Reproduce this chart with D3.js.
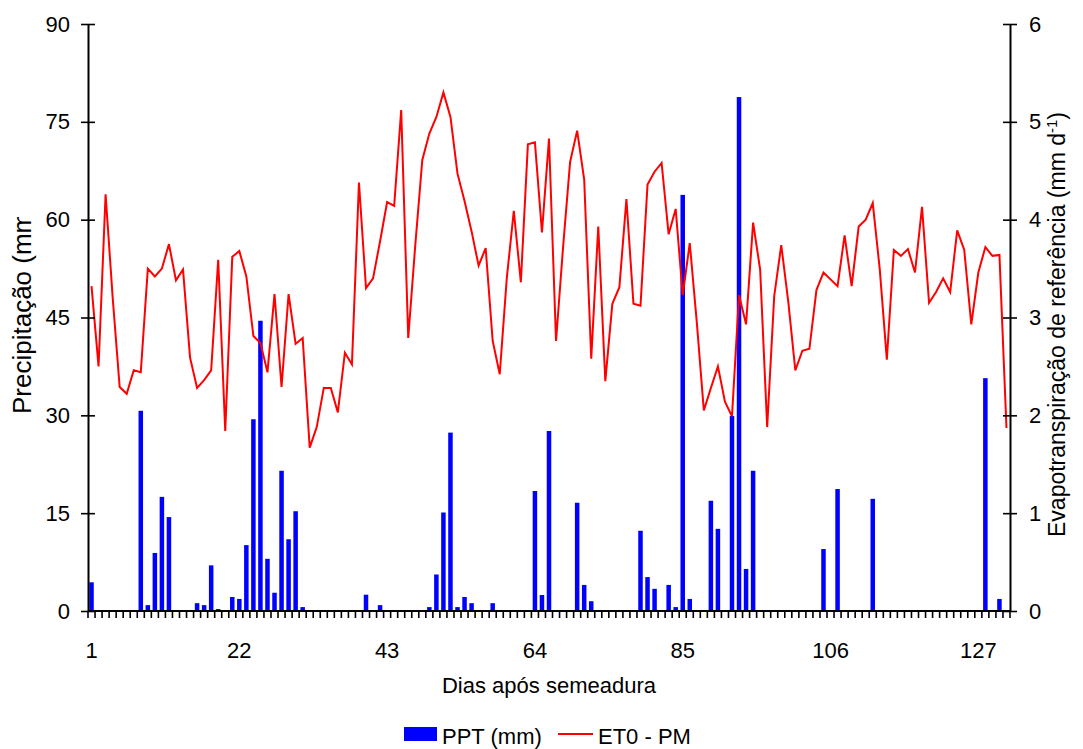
<!DOCTYPE html>
<html>
<head>
<meta charset="utf-8">
<script src="https://cdn.jsdelivr.net/npm/d3@7/dist/d3.min.js"></script>
<style>
  html, body { margin: 0; padding: 0; background: #fff; }
  svg { display: block; font-family: "Liberation Sans", Arial, sans-serif; }
</style>
</head>
<body>
<svg id="chart" width="1083" height="749"></svg>
<script>
// ---- data ----
const days = d3.range(1, 132); // 1..131
const pptDays = [1, 8, 9, 10, 11, 12, 16, 17, 18, 19, 21, 22, 23, 24, 25, 26, 27, 28, 29, 30, 31,
  40, 42, 49, 50, 51, 52, 53, 54, 55, 58, 64, 65, 66, 70, 71, 72, 79, 80, 81, 83, 84, 85, 86,
  89, 90, 92, 93, 94, 95, 105, 107, 112, 128, 130];
const pptValues = [4.4, 30.7, 0.9, 8.9, 17.5, 14.4, 1.2, 0.9, 7.0, 0.3, 2.15, 1.85, 10.1, 29.4, 44.5, 8.0, 2.8, 21.5, 11.0, 15.3, 0.6,
  2.5, 0.9, 0.6, 5.6, 15.1, 27.35, 0.6, 2.15, 1.2, 1.2, 18.4, 2.45, 27.6, 16.6, 4.0, 1.5, 12.3, 5.2, 3.4, 4.0, 0.6, 63.8, 1.85,
  16.9, 12.6, 29.9, 78.8, 6.45, 21.5, 9.5, 18.7, 17.2, 35.7, 1.85];
const et0Values = [
  3.32, 2.50, 4.26, 3.21, 2.29, 2.22, 2.46, 2.44, 3.50, 3.42,
  3.50, 3.75, 3.38, 3.49, 2.59, 2.28, 2.36, 2.46, 3.59, 1.84,
  3.62, 3.68, 3.42, 2.81, 2.74, 2.44, 3.24, 2.29, 3.24, 2.73,
  2.79, 1.67, 1.88, 2.28, 2.28, 2.03, 2.64, 2.52, 4.38, 3.30,
  3.40, 3.78, 4.18, 4.14, 5.12, 2.79, 3.74, 4.61, 4.88, 5.05,
  5.30, 5.05, 4.47, 4.19, 3.88, 3.53, 3.71, 2.76, 2.42, 3.40,
  4.09, 3.36, 4.77, 4.79, 3.87, 4.83, 2.76, 3.72, 4.59, 4.91,
  4.41, 2.58, 3.93, 2.35, 3.14, 3.31, 4.21, 3.14, 3.12, 4.36,
  4.49, 4.58, 3.85, 4.11, 3.23, 3.76, 2.95, 2.05, 2.28, 2.50,
  2.14, 1.99, 3.23, 2.93, 3.97, 3.49, 1.88, 3.22, 3.74, 3.16,
  2.46, 2.66, 2.68, 3.28, 3.46, 3.39, 3.32, 3.84, 3.32, 3.93,
  4.00, 4.17, 3.49, 2.57, 3.69, 3.63, 3.70, 3.46, 4.13, 3.15,
  3.26, 3.40, 3.26, 3.89, 3.69, 2.93, 3.46, 3.72, 3.63, 3.64,
  1.87];
const xTickLabels = [1, 22, 43, 64, 85, 106, 127];
const leftTicks = [0, 15, 30, 45, 60, 75, 90];
const rightTicks = [0, 1, 2, 3, 4, 5, 6];
const xTitle = "Dias após semeadura";
const yLeftTitle = "Precipitação (mm)";
const yRightTitleMain = "Evapotranspiração de referência (mm d";
const legendLabels = ["PPT (mm)", "ET0 - PM"];

// ---- layout ----
const L = 88, R = 1010, T = 24, B = 611;
const svg = d3.select("#chart");
const x = d3.scaleBand().domain(days).range([L, R]).paddingInner(0).paddingOuter(0);
const yL = d3.scaleLinear().domain([0, 90]).range([B, T]);
const yR = d3.scaleLinear().domain([0, 6]).range([B, T]);
const bw = x.bandwidth();
const barW = bw * 0.64;

// bars
const bars = pptDays.map((d, i) => ({ day: d, v: pptValues[i] }));
svg.append("g").selectAll("rect").data(bars).join("rect")
  .attr("x", d => x(d.day) + (bw - barW) / 2)
  .attr("y", d => yL(d.v))
  .attr("width", barW)
  .attr("height", d => yL(0) - yL(d.v))
  .attr("fill", "#0000ff");

// line
const line = d3.line().x((v, i) => x(days[i]) + bw / 2).y(v => yR(v));
svg.append("path").datum(et0Values)
  .attr("d", line)
  .attr("fill", "none")
  .attr("stroke", "#ff0000")
  .attr("stroke-width", 2)
  .attr("stroke-linejoin", "miter");

// bottom axis
const gx = svg.append("g");
gx.append("line").attr("x1", L).attr("x2", R).attr("y1", B).attr("y2", B)
  .attr("stroke", "#000").attr("stroke-width", 2);
const boundaries = days.map(d => x(d)).concat([x(days[days.length - 1]) + bw]);
gx.selectAll("line.tk").data(boundaries).join("line").attr("class", "tk")
  .attr("x1", d => d).attr("x2", d => d).attr("y1", B).attr("y2", B + 7)
  .attr("stroke", "#000").attr("stroke-width", 1.6);
gx.selectAll("text").data(xTickLabels).join("text")
  .attr("x", d => x(d) + bw / 2).attr("y", 658)
  .attr("text-anchor", "middle").attr("font-size", 22).attr("fill", "#000")
  .text(d => d);

// left axis
const gl = svg.append("g").attr("transform", `translate(${L},0)`)
  .call(d3.axisLeft(yL).tickValues(leftTicks).tickFormat(d3.format("d")).tickSize(7).tickSizeOuter(0).tickPadding(11));
gl.select(".domain").attr("stroke-width", 2);
gl.selectAll(".tick line").attr("x1", 7).attr("stroke-width", 1.6);
gl.selectAll(".tick text").attr("font-size", 22).attr("font-family", "Liberation Sans, Arial, sans-serif").attr("fill", "#000");

// right axis
const gr = svg.append("g").attr("transform", `translate(${R},0)`)
  .call(d3.axisRight(yR).tickValues(rightTicks).tickFormat(d3.format("d")).tickSize(7).tickSizeOuter(0).tickPadding(12));
gr.select(".domain").attr("stroke-width", 2);
gr.selectAll(".tick line").attr("x1", -7).attr("stroke-width", 1.6);
gr.selectAll(".tick text").attr("font-size", 22).attr("font-family", "Liberation Sans, Arial, sans-serif").attr("fill", "#000");

// axis titles (clipped like the original)
const defs = svg.append("defs");
defs.append("clipPath").attr("id", "clipL").append("rect")
  .attr("x", 0).attr("y", 217).attr("width", 60).attr("height", 400);
defs.append("clipPath").attr("id", "clipR").append("rect")
  .attr("x", 1040).attr("y", 92).attr("width", 43).attr("height", 500);

svg.append("g").attr("clip-path", "url(#clipL)")
  .append("text")
  .attr("transform", "translate(31,414) rotate(-90)")
  .attr("font-size", 26).attr("fill", "#000")
  .text(yLeftTitle);

const rt = svg.append("g").attr("clip-path", "url(#clipR)")
  .append("text")
  .attr("transform", "translate(1065,537) rotate(-90)")
  .attr("font-size", 23).attr("fill", "#000");
rt.append("tspan").text(yRightTitleMain);
rt.append("tspan").attr("dy", -8).attr("font-size", 15).text("-1");
rt.append("tspan").attr("dy", 8).text(")");

svg.append("text").attr("x", 549).attr("y", 693)
  .attr("text-anchor", "middle").attr("font-size", 22).attr("fill", "#000")
  .text(xTitle);

// legend
const lg = svg.append("g");
lg.append("rect").attr("x", 404).attr("y", 727).attr("width", 33).attr("height", 14).attr("fill", "#0000ff");
lg.append("text").attr("x", 442).attr("y", 744).attr("font-size", 22).attr("fill", "#000").text(legendLabels[0]);
lg.append("line").attr("x1", 558).attr("x2", 593).attr("y1", 734).attr("y2", 734)
  .attr("stroke", "#ff0000").attr("stroke-width", 2);
lg.append("text").attr("x", 598).attr("y", 744).attr("font-size", 22).attr("fill", "#000").text(legendLabels[1]);
</script>
</body>
</html>
